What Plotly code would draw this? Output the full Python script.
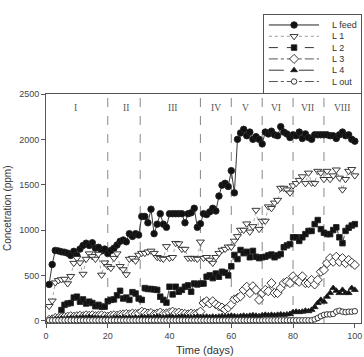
import plotly.graph_objects as go

days = list(range(1, 101))

L_feed = [400, 620, 775, 770, 760, 755, 745, 720, 765, 720,
          790, 830, 855, 830, 860, 800, 810, 770, 790, 740,
          775, 800, 835, 875, 890, 870, 960, 930, 960, 945,
          1150, 1150, 1080, 1230, 960, 1065, 1180, 1065, 1030, 1180,
          1180, 1180, 1180, 1180, 1080, 1180, 1190, 1240, 1030, 1070,
          1180, 1170, 1200, 1240, 1210, 1375, 1495, 1515, 1480, 1655,
          1410, 2000, 2070, 2110, 2040, 2080, 2000, 2030, 2000, 1950,
          2080, 2060, 2090, 2050, 2040, 2140, 2080, 2060, 2020, 2050,
          2040, 2080, 2010, 2060, 2020, 2000, 2050, 2050, 2050, 2050,
          2050, 2040, 2040, 2010, 2050, 2080, 2040, 2050, 2000, 1980]

L1 = [160, 220, 420, 445, 455, 460, 410, 490, 635, 690,
      640, 515, 680, 740, 710, 680, 735, 505, 640, 600,
      580, 690, 740, 600, 565, 510, 680, 690, 660, 725,
      745, 745, 760, 770, 745, 700, 690, 680, 820, 690,
      700, 855, 850, 790, 790, 690, 690, 690, 680, 870,
      690, 700, 670, 636, 700, 745, 780, 790, 815, 815,
      880, 930, 1000, 1000, 1070, 980, 1040, 1220, 1010, 1100,
      1100, 1258, 1240, 1300, 1330, 1463, 1463, 1445, 1410, 1490,
      1515, 1550, 1590, 1515, 1630, 1520, 1515, 1650, 1630, 1560,
      1650, 1560, 1600, 1665, 1575, 1445, 1560, 1650, 1670, 1600]

L2 = [None, None, None, None, 118, 175, 190, 195, 255, 265,
      210, 235, 190, 210, 195, 160, 175, 155, 155, 215,
      230, 235, 280, 330, 245, 255, 230, 315, 300, 245,
      230, 360, 350, 350, 345, 340, 265, 230, 200, 375,
      290, 375, 320, 340, 375, 390, 320, 410, 400, 410,
      410, 485, 500, 470, 520, 485, 540, 530, 500, 600,
      725, 680, 780, 745, 760, 700, 770, 705, 690, 700,
      705, 720, 730, 700, 720, 735, 810, 830, 845, 920,
      920, 880, 920, 955, 990, 990, 1065, 1110, 1010, 970,
      955, 955, 1000, 1030, 920, 855, 990, 1025, 1050, 1065]

L3 = [10, 15, 30, 30, 35, 40, 45, 50, 45, 50,
      55, 50, 60, 55, 60, 50, 55, 60, 50, 45,
      55, 60, 55, 65, 70, 75, 70, 80, 75, 80,
      100, 90, 80, 85, 70, 80, 90, 75, 80, 90,
      100, 85, 90, 80, 75, 70, 80, 75, 80, 100,
      195, 215, 190, 215, 180, 160, 145, 125, 145, 180,
      235, 250, 270, 340, 375, 305, 380, 340, 230, 305,
      340, 325, 415, 305, 305, 360, 415, 430, 415, 490,
      450, 430, 490, 415, 415, 450, 400, 450, 540, 560,
      635, 690, 650, 705, 650, 690, 635, 670, 640, 615]

L4 = [5, 10, 20, 20, 25, 20, 25, 30, 25, 30,
      30, 35, 30, 40, 35, 30, 30, 25, 30, 25,
      25, 30, 35, 30, 35, 30, 35, 30, 35, 30,
      40, 35, 40, 35, 40, 45, 40, 35, 40, 45,
      40, 35, 40, 45, 40, 40, 35, 40, 45, 40,
      40, 45, 40, 45, 40, 45, 50, 45, 50, 55,
      50, 45, 50, 55, 50, 55, 60, 55, 50, 60,
      65, 60, 65, 60, 65, 70, 65, 70, 75, 95,
      100, 95, 100, 110, 105, 120, 150, 195, 230, 210,
      265, 305, 360, 330, 305, 340, 305, 305, 360, 340]

L_out = [5] * 86 + [15, 30, 50, 65, 70, 70, 75, 100, 110, 100, 95, 100, 100, 105]

names = ["L feed", "L 1", "L 2", "L 3", "L 4", "L out"]
series = [L_feed, L1, L2, L3, L4, L_out]

zone_lines = [20, 30.5, 50, 60, 70, 80, 90]
zone_labels = ["I", "II", "III", "IV", "V", "VI", "VII", "VIII"]
zone_label_x = [9.7, 25.8, 41, 55, 64.5, 74.6, 84.7, 95.8]
zone_label_y = 2350

x_ticks = [0, 20, 40, 60, 80, 100]
y_ticks = [0, 500, 1000, 1500, 2000, 2500]

styles = [
    dict(dash="solid", lc="#222", sym="circle", size=6.5, fill="#111"),
    dict(dash="dot", lc="#999", sym="triangle-down", size=7, fill="white"),
    dict(dash="dash", lc="#333", sym="square", size=5.5, fill="#111"),
    dict(dash="dashdot", lc="#555", sym="diamond", size=7, fill="white"),
    dict(dash="longdash", lc="#333", sym="triangle-up", size=6, fill="#111"),
    dict(dash="dashdot", lc="#555", sym="circle", size=5.5, fill="white"),
]

fig = go.Figure()
for nm, ys, st in zip(names, series, styles):
    fig.add_trace(go.Scatter(
        x=days, y=ys, name=nm, mode="lines+markers", showlegend=False,
        line=dict(color=st["lc"], width=0.9, dash=st["dash"]),
        marker=dict(symbol=st["sym"], size=st["size"], color=st["fill"],
                    line=dict(color="#222", width=0.9)),
        connectgaps=False, xaxis="x", yaxis="y"))

# custom compact legend drawn on an overlay axis
row_y = [0.872, 0.727, 0.582, 0.437, 0.292, 0.147]
for nm, st, ry in zip(names, styles, row_y):
    fig.add_trace(go.Scatter(
        x=[0.05, 0.567], y=[ry, ry], mode="lines", showlegend=False,
        line=dict(color=st["lc"], width=1, dash=st["dash"]),
        xaxis="x2", yaxis="y2", hoverinfo="skip"))
    fig.add_trace(go.Scatter(
        x=[0.31], y=[ry], mode="markers", showlegend=False,
        marker=dict(symbol=st["sym"], size=st["size"], color=st["fill"],
                    line=dict(color="#222", width=0.9)),
        xaxis="x2", yaxis="y2", hoverinfo="skip"))

annotations = []
for nm, ry in zip(names, row_y):
    annotations.append(dict(x=0.68, y=ry, xref="x2", yref="y2", text=nm,
                            showarrow=False, xanchor="left", yanchor="middle",
                            font=dict(family="Liberation Sans", size=9, color="#333")))
for lab, lx in zip(zone_labels, zone_label_x):
    annotations.append(dict(x=lx, y=zone_label_y, xref="x", yref="y", text=lab,
                            showarrow=False, xanchor="center", yanchor="middle",
                            font=dict(family="Liberation Serif", size=9.5, color="#555")))
annotations.append(dict(x=0.505, y=-0.088, xref="paper", yref="paper", text="Time (days)",
                        showarrow=False, xanchor="center", yanchor="middle",
                        font=dict(family="Liberation Sans", size=11, color="#333")))
annotations.append(dict(x=-0.124, y=0.373, xref="paper", yref="paper",
                        text="Concetration (ppm)", textangle=-90,
                        showarrow=False, xanchor="center", yanchor="middle",
                        font=dict(family="Liberation Sans", size=10, color="#333")))

shapes = []
for zx in zone_lines:
    shapes.append(dict(type="line", xref="x", yref="y domain", x0=zx, x1=zx, y0=0, y1=1,
                       line=dict(color="#888", width=1, dash="dash"), layer="below"))

fig.update_layout(
    width=364, height=357,
    margin=dict(l=46, r=3, t=15, b=34),
    paper_bgcolor="white", plot_bgcolor="white",
    showlegend=False,
    annotations=annotations, shapes=shapes,
    xaxis=dict(domain=[0, 1], range=[0, 102], tickvals=x_ticks, ticks="outside",
               ticklen=4, tickcolor="#555", showline=True, linecolor="#555",
               linewidth=1, mirror=True, showgrid=False, zeroline=False,
               tickfont=dict(family="Liberation Sans", size=9, color="#444"),
               anchor="y"),
    yaxis=dict(domain=[0, 0.7435], range=[-25, 2500], tickvals=y_ticks, ticks="outside",
               ticklen=4, tickcolor="#555", showline=True, linecolor="#555",
               linewidth=1, mirror=True, showgrid=False, zeroline=False,
               tickfont=dict(family="Liberation Sans", size=9, color="#444"),
               anchor="x"),
    xaxis2=dict(domain=[0.692, 1], range=[0, 1], anchor="y2", showline=True,
                linecolor="#555", linewidth=1, mirror=True, showgrid=False,
                zeroline=False, showticklabels=False, ticks=""),
    yaxis2=dict(domain=[0.7468, 1], range=[0, 1], anchor="x2", showline=True,
                linecolor="#555", linewidth=1, mirror=True, showgrid=False,
                zeroline=False, showticklabels=False, ticks=""),
)

fig.write_html("out.html")
